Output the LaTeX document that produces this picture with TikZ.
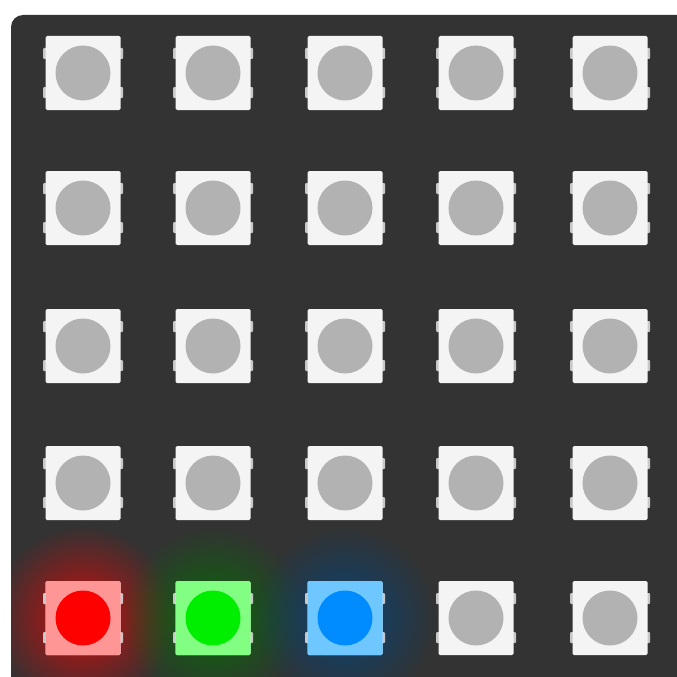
\documentclass[tikz,border=0pt]{standalone}
\usepackage{tikz}
\usetikzlibrary{fadings}
\usepackage{xcolor}

\definecolor{boardgray}{RGB}{51,51,51}
\definecolor{ledwhite}{RGB}{244,244,244}
\definecolor{tabgray}{RGB}{200,200,200}
\definecolor{lensgray}{RGB}{178,178,178}

\tikzfading[name=glowfade, inner color=transparent!0, outer color=transparent!100]

\begin{document}
\begin{tikzpicture}[x=1pt,y=1pt,yscale=-1,xscale=1,
  ledbox/.style={draw=none, fill=ledwhite, rounded corners=1.5pt, minimum width=75pt, minimum height=74pt, inner sep=0pt},
  ledlens/.style={circle, draw=none, fill=lensgray, minimum size=55pt, inner sep=0pt},
  ledtab/.style={fill=tabgray, rounded corners=1pt}]
\useasboundingbox (0,0) rectangle (677,677);
\clip (0,0) rectangle (677,677);

%Shape: white page
\fill [white] (0,0) rectangle (677,677);
%Shape: board
\fill [boardgray, rounded corners=12pt] (11,15) rectangle (690,700);

%Glow behind the lit ones
\begin{scope}
\clip (11,15) rectangle (690,700);
\fill [red!75!boardgray, path fading=glowfade] (83,618) circle (92);
\fill [green!45!black!85!boardgray, path fading=glowfade] (213,618) circle (92);
\fill [blue!45!cyan!50!black!85!boardgray, path fading=glowfade] (345,618) circle (92);
\end{scope}

%LED grid, row 1 at top
\foreach \r/\y in {1/73,2/208,3/346,4/483,5/618} {
  \foreach \c/\x in {1/83,2/213,3/345,4/476,5/610} {
    \fill [ledtab] (\x-40,\y-25) rectangle (\x-33,\y-14);
    \fill [ledtab] (\x-40,\y+14) rectangle (\x-33,\y+25);
    \fill [ledtab] (\x+33,\y-25) rectangle (\x+40,\y-14);
    \fill [ledtab] (\x+33,\y+14) rectangle (\x+40,\y+25);
    \node [ledbox] (box\r\c) at (\x,\y) {};
    \node [ledlens] (lens\r\c) at (box\r\c) {};
  }
}

%Lit LEDs: red, green, blue
\node [ledbox, fill={rgb,255:red,255;green,150;blue,150}] (box51) at (83,618) {};
\node [ledlens, fill={rgb,255:red,255;green,0;blue,0}] (lens51) at (box51) {};
\node [ledbox, fill={rgb,255:red,130;green,255;blue,130}] (box52) at (213,618) {};
\node [ledlens, fill={rgb,255:red,0;green,238;blue,0}] (lens52) at (box52) {};
\node [ledbox, fill={rgb,255:red,110;green,200;blue,255}] (box53) at (345,618) {};
\node [ledlens, fill={rgb,255:red,0;green,140;blue,255}] (lens53) at (box53) {};

\end{tikzpicture}
\end{document}
